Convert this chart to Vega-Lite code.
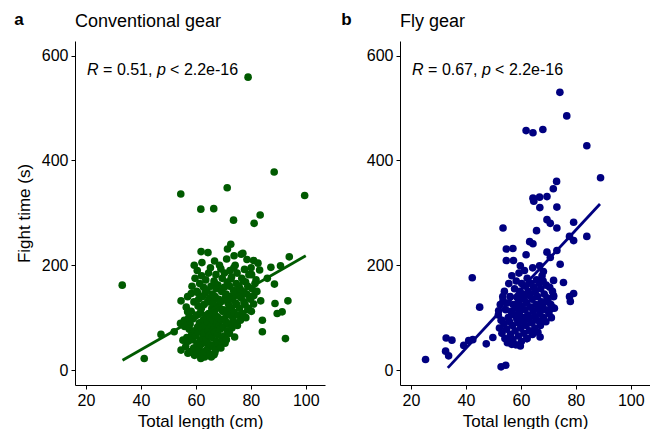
{
  "$schema": "https://vega.github.io/schema/vega-lite/v6.json",
  "padding": {"left": 14, "top": 11, "right": 0, "bottom": 0},
  "config": {
    "view": {"stroke": null},
    "font": "Liberation Sans",
    "axis": {"grid": false, "domainColor": "#000", "domainWidth": 1, "tickColor": "#000", "tickSize": 4, "tickWidth": 1, "labelColor": "#000", "labelFontSize": 16, "titleFontSize": 17, "titleFontWeight": "normal", "titleColor": "#000", "labelPadding": 3, "titlePadding": 5, "labelFont": "Liberation Sans", "titleFont": "Liberation Sans"},
    "title": {"font": "Liberation Sans", "color": "#000"}
  },
  "datasets": {
    "conv": [
      {"length":33.2,"time":162},{"length":41.2,"time":22},{"length":79,"time":559},{"length":88.5,"time":378},{"length":71.4,"time":348},{"length":54.5,"time":336},{"length":99.6,"time":333},{"length":61.8,"time":307},{"length":66.5,"time":308},{"length":83.4,"time":296},{"length":73.7,"time":286},{"length":81.2,"time":280},
      {"length":72.7,"time":240},{"length":71.5,"time":231},{"length":61.9,"time":226},{"length":64.4,"time":224},{"length":73.9,"time":218},{"length":76.5,"time":221},{"length":66.8,"time":208},{"length":78.6,"time":211},{"length":81,"time":209},{"length":94,"time":216},{"length":59.4,"time":200},{"length":69.1,"time":193},{"length":73.8,"time":195},{"length":83.2,"time":191},{"length":87.3,"time":196},{"length":90.8,"time":199},{"length":62.1,"time":180},{"length":72.8,"time":174},{"length":80.3,"time":182},{"length":86,"time":175},{"length":88.6,"time":164},{"length":67,"time":165},{"length":58.3,"time":146},{"length":54.6,"time":132},{"length":88.8,"time":127},{"length":93.5,"time":132},{"length":83.6,"time":132},{"length":81,"time":126},{"length":89.6,"time":108},{"length":91.4,"time":111},{"length":84.2,"time":95},{"length":84.2,"time":73},{"length":92.6,"time":60},{"length":74.1,"time":63},{"length":54.4,"time":89},{"length":52.1,"time":73},{"length":47.3,"time":68},{"length":57,"time":111},{"length":60.6,"time":148},{"length":54.6,"time":38},{"length":61.8,"time":22},{"length":66.6,"time":29},{"length":70.6,"time":51},{"length":57.1,"time":32},{"length":59.5,"time":28},{"length":63.2,"time":25},{"length":55.3,"time":57},{"length":55.9,"time":83},{"length":76.5,"time":102},{"length":78.9,"time":115},{"length":82.6,"time":204},{"length":77.1,"time":223},{"length":65.6,"time":25},{"length":66.9,"time":33},
      {"length":56.3,"time":45},{"length":56.7,"time":62},{"length":55.8,"time":95},{"length":56.5,"time":120},
      {"length":57.2,"time":55},{"length":57.6,"time":78},{"length":57.0,"time":140},{"length":57.4,"time":100},
      {"length":58.1,"time":35},{"length":58.5,"time":68},{"length":57.9,"time":88},{"length":58.3,"time":112},{"length":58.6,"time":160},
      {"length":59.2,"time":42},{"length":58.8,"time":58},{"length":59.5,"time":75},{"length":59.0,"time":98},{"length":59.3,"time":130},{"length":59.7,"time":175},
      {"length":60.1,"time":30},{"length":60.4,"time":50},{"length":59.9,"time":65},{"length":60.6,"time":82},{"length":60.2,"time":105},{"length":60.8,"time":122},{"length":60.3,"time":150},{"length":60.5,"time":190},
      {"length":61.2,"time":38},{"length":61.5,"time":55},{"length":60.9,"time":72},{"length":61.3,"time":90},{"length":61.7,"time":110},{"length":61.0,"time":135},{"length":61.4,"time":165},
      {"length":62.3,"time":28},{"length":61.8,"time":48},{"length":62.5,"time":62},{"length":62.1,"time":80},{"length":62.7,"time":96},{"length":62.0,"time":118},{"length":62.4,"time":140},{"length":62.8,"time":158},{"length":62.2,"time":205},
      {"length":63.1,"time":35},{"length":63.5,"time":52},{"length":62.9,"time":70},{"length":63.3,"time":85},{"length":63.7,"time":102},{"length":63.0,"time":125},{"length":63.4,"time":148},{"length":63.6,"time":172},
      {"length":64.2,"time":40},{"length":63.9,"time":58},{"length":64.5,"time":75},{"length":64.1,"time":92},{"length":64.7,"time":108},{"length":64.3,"time":130},{"length":64.0,"time":152},{"length":64.6,"time":185},
      {"length":65.1,"time":30},{"length":65.4,"time":48},{"length":64.9,"time":66},{"length":65.6,"time":84},{"length":65.2,"time":100},{"length":65.8,"time":118},{"length":65.0,"time":138},{"length":65.5,"time":160},{"length":65.3,"time":195},
      {"length":66.2,"time":45},{"length":65.9,"time":62},{"length":66.5,"time":78},{"length":66.1,"time":95},{"length":66.7,"time":112},{"length":66.3,"time":128},{"length":66.0,"time":145},{"length":66.6,"time":170},
      {"length":67.1,"time":38},{"length":67.4,"time":55},{"length":66.9,"time":72},{"length":67.6,"time":88},{"length":67.2,"time":104},{"length":67.8,"time":122},{"length":67.0,"time":140},{"length":67.5,"time":155},{"length":67.3,"time":182},
      {"length":68.2,"time":50},{"length":67.9,"time":68},{"length":68.5,"time":85},{"length":68.1,"time":100},{"length":68.7,"time":118},{"length":68.3,"time":135},{"length":68.0,"time":162},{"length":68.6,"time":200},
      {"length":69.1,"time":42},{"length":69.5,"time":60},{"length":68.9,"time":78},{"length":69.3,"time":96},{"length":69.7,"time":112},{"length":69.0,"time":130},{"length":69.4,"time":150},{"length":69.6,"time":175},
      {"length":70.2,"time":65},{"length":69.9,"time":82},{"length":70.5,"time":98},{"length":70.1,"time":115},{"length":70.7,"time":138},{"length":70.3,"time":158},{"length":70.4,"time":185},
      {"length":71.1,"time":58},{"length":71.5,"time":75},{"length":70.9,"time":92},{"length":71.3,"time":110},{"length":71.7,"time":128},{"length":71.0,"time":145},{"length":71.4,"time":168},{"length":71.2,"time":212},
      {"length":72.2,"time":70},{"length":71.9,"time":88},{"length":72.5,"time":105},{"length":72.1,"time":122},{"length":72.7,"time":140},{"length":72.3,"time":160},{"length":72.4,"time":190},
      {"length":73.1,"time":80},{"length":73.5,"time":98},{"length":72.9,"time":118},{"length":73.3,"time":135},{"length":73.7,"time":152},{"length":73.0,"time":178},
      {"length":74.2,"time":90},{"length":73.9,"time":110},{"length":74.5,"time":128},{"length":74.1,"time":148},{"length":74.7,"time":165},{"length":74.3,"time":200},
      {"length":75.1,"time":85},{"length":75.5,"time":105},{"length":74.9,"time":125},{"length":75.3,"time":142},{"length":75.7,"time":160},{"length":75.0,"time":185},
      {"length":76.2,"time":95},{"length":75.9,"time":118},{"length":76.5,"time":138},{"length":76.1,"time":155},{"length":76.7,"time":175},
      {"length":77.1,"time":108},{"length":77.5,"time":130},{"length":76.9,"time":150},{"length":77.3,"time":170},{"length":77.7,"time":192},
      {"length":78.2,"time":100},{"length":77.9,"time":125},{"length":78.5,"time":145},{"length":78.1,"time":168},
      {"length":79.1,"time":118},{"length":79.5,"time":140},{"length":78.9,"time":160},{"length":79.3,"time":182},
      {"length":80.2,"time":112},{"length":79.9,"time":135},{"length":80.5,"time":155},{"length":80.1,"time":195},
      {"length":81.1,"time":142},{"length":81.5,"time":165},
      {"length":82.2,"time":150},{"length":81.9,"time":172}
    ],
    "fly": [
      {"length":74.2,"time":530},{"length":76.7,"time":485},{"length":61.9,"time":457},{"length":64.4,"time":453},{"length":68,"time":459},{"length":84,"time":428},{"length":89,"time":367},{"length":73,"time":360},{"length":71.8,"time":346},{"length":64.4,"time":328},{"length":66.8,"time":330},{"length":69.5,"time":331},{"length":64.7,"time":322},{"length":66.9,"time":310},{"length":73.1,"time":311},{"length":53.5,"time":271},{"length":69.5,"time":287},{"length":70.7,"time":280},{"length":73.1,"time":271},{"length":79.2,"time":282},{"length":65.7,"time":266},{"length":63.2,"time":245},{"length":64.4,"time":241},{"length":84,"time":255},{"length":79.2,"time":247},{"length":77.7,"time":255},{"length":54.7,"time":231},{"length":57.1,"time":232},{"length":61.9,"time":220},{"length":69.5,"time":225},{"length":70.7,"time":215},{"length":73.1,"time":228},{"length":54.7,"time":209},{"length":57.3,"time":209},{"length":59.8,"time":199},{"length":74.3,"time":202},{"length":66.8,"time":199},{"length":68.2,"time":188},{"length":42.3,"time":176},{"length":75.5,"time":167},{"length":71.9,"time":171},{"length":79.2,"time":146},{"length":77.7,"time":140},{"length":78,"time":131},{"length":71.9,"time":142},{"length":70.7,"time":116},{"length":71.6,"time":119},{"length":45,"time":120},{"length":53.5,"time":132},{"length":51.9,"time":113},{"length":53.1,"time":95},{"length":67,"time":93},{"length":67,"time":63},{"length":62.2,"time":60},{"length":59.8,"time":46},{"length":56.7,"time":49},{"length":55.5,"time":59},{"length":49.8,"time":62},{"length":47.4,"time":50},{"length":42.5,"time":58},{"length":41,"time":56},{"length":39.2,"time":47},{"length":32.8,"time":61},{"length":34.9,"time":57},{"length":32.6,"time":36},{"length":33.7,"time":27},{"length":25.3,"time":20},{"length":52.8,"time":6},{"length":54.5,"time":9},
      {"length":52.2,"time":80},{"length":51.8,"time":105},{"length":52.5,"time":125},
      {"length":53.1,"time":70},{"length":52.8,"time":95},{"length":53.4,"time":140},
      {"length":54.2,"time":60},{"length":53.8,"time":88},{"length":54.5,"time":115},{"length":54.0,"time":150},
      {"length":55.1,"time":52},{"length":54.8,"time":78},{"length":55.4,"time":100},{"length":55.0,"time":128},{"length":55.6,"time":165},
      {"length":56.2,"time":68},{"length":55.9,"time":92},{"length":56.5,"time":112},{"length":56.1,"time":140},{"length":56.7,"time":180},
      {"length":57.1,"time":58},{"length":56.9,"time":85},{"length":57.5,"time":105},{"length":57.2,"time":125},{"length":57.7,"time":155},
      {"length":58.2,"time":48},{"length":57.9,"time":75},{"length":58.5,"time":98},{"length":58.1,"time":118},{"length":58.7,"time":138},{"length":58.3,"time":170},
      {"length":59.1,"time":65},{"length":58.9,"time":90},{"length":59.5,"time":110},{"length":59.2,"time":130},{"length":59.7,"time":150},{"length":59.3,"time":185},
      {"length":60.2,"time":55},{"length":59.9,"time":80},{"length":60.5,"time":100},{"length":60.1,"time":122},{"length":60.7,"time":145},{"length":60.3,"time":165},
      {"length":61.1,"time":70},{"length":60.9,"time":92},{"length":61.5,"time":115},{"length":61.2,"time":135},{"length":61.7,"time":160},{"length":61.3,"time":190},
      {"length":62.2,"time":60},{"length":61.9,"time":85},{"length":62.5,"time":105},{"length":62.1,"time":128},{"length":62.7,"time":150},{"length":62.3,"time":175},
      {"length":63.1,"time":75},{"length":62.9,"time":98},{"length":63.5,"time":120},{"length":63.2,"time":142},{"length":63.7,"time":165},
      {"length":64.2,"time":68},{"length":63.9,"time":90},{"length":64.5,"time":112},{"length":64.1,"time":135},{"length":64.7,"time":158},{"length":64.3,"time":195},
      {"length":65.1,"time":80},{"length":64.9,"time":102},{"length":65.5,"time":125},{"length":65.2,"time":148},{"length":65.7,"time":172},
      {"length":66.2,"time":72},{"length":65.9,"time":95},{"length":66.5,"time":118},{"length":66.1,"time":140},{"length":66.7,"time":165},
      {"length":67.1,"time":85},{"length":66.9,"time":108},{"length":67.5,"time":130},{"length":67.2,"time":155},{"length":67.7,"time":180},
      {"length":68.2,"time":100},{"length":67.9,"time":122},{"length":68.5,"time":145},{"length":68.1,"time":170},
      {"length":69.1,"time":92},{"length":68.9,"time":115},{"length":69.5,"time":138},{"length":69.2,"time":162},
      {"length":70.2,"time":108},{"length":69.9,"time":130},{"length":70.5,"time":158},
      {"length":71.1,"time":100},{"length":70.9,"time":125},{"length":71.5,"time":150},
      {"length":72.2,"time":118},{"length":71.9,"time":140}
    ],
    "conv_fit": [{"length":33.3,"time":18.5},{"length":100,"time":218}],
    "fly_fit": [{"length":33.4,"time":4},{"length":88.8,"time":317}]
  },
  "spacing": 16,
  "hconcat": [
    {
      "title": {"text": "a", "anchor": "start", "frame": "bounds", "fontWeight": "bold", "fontSize": 17, "baseline": "alphabetic", "offset": 0, "dy": 29, "dx": -1},
      "hconcat": [
        {
          "width": 250, "height": 344,
          "title": {"text": "Conventional gear", "anchor": "start", "frame": "group", "fontSize": 18, "fontWeight": "normal", "baseline": "alphabetic", "offset": -4},
          "layer": [
            {"data": {"name": "conv"}, "mark": {"type": "circle", "size": 58, "opacity": 1, "color": "#005a00"},
             "encoding": {
               "x": {"field": "length", "type": "quantitative", "scale": {"domain": [16, 107], "nice": false, "zero": false}, "axis": {"title": "Total length (cm)", "values": [20, 40, 60, 80, 100]}},
               "y": {"field": "time", "type": "quantitative", "scale": {"domain": [-28.6, 628], "nice": false, "zero": false}, "axis": {"title": "Fight time (s)", "values": [0, 200, 400, 600], "titlePadding": 8}}
             }},
            {"data": {"name": "conv_fit"}, "mark": {"type": "line", "color": "#005a00", "strokeWidth": 2.8},
             "encoding": {"x": {"field": "length", "type": "quantitative"}, "y": {"field": "time", "type": "quantitative"}}},
            {"data": {"values": [{}]}, "mark": {"type": "text", "text": "R", "fontStyle": "italic", "align": "left", "baseline": "middle", "fontSize": 16, "dx": 0},
             "encoding": {"x": {"datum": 20.4, "type": "quantitative"}, "y": {"datum": 572, "type": "quantitative"}}},
            {"data": {"values": [{}]}, "mark": {"type": "text", "text": "= 0.51,", "align": "left", "baseline": "middle", "fontSize": 16, "dx": 16},
             "encoding": {"x": {"datum": 20.4, "type": "quantitative"}, "y": {"datum": 572, "type": "quantitative"}}},
            {"data": {"values": [{}]}, "mark": {"type": "text", "text": "p", "fontStyle": "italic", "align": "left", "baseline": "middle", "fontSize": 16, "dx": 70},
             "encoding": {"x": {"datum": 20.4, "type": "quantitative"}, "y": {"datum": 572, "type": "quantitative"}}},
            {"data": {"values": [{}]}, "mark": {"type": "text", "text": "< 2.2e-16", "align": "left", "baseline": "middle", "fontSize": 16, "dx": 83},
             "encoding": {"x": {"datum": 20.4, "type": "quantitative"}, "y": {"datum": 572, "type": "quantitative"}}}
          ]
        }
      ]
    },
    {
      "title": {"text": "b", "anchor": "start", "frame": "bounds", "fontWeight": "bold", "fontSize": 17, "baseline": "alphabetic", "offset": 0, "dy": 29, "dx": -25},
      "hconcat": [
        {
          "width": 250, "height": 344,
          "title": {"text": "Fly gear", "anchor": "start", "frame": "group", "fontSize": 18, "fontWeight": "normal", "baseline": "alphabetic", "offset": -4},
          "layer": [
            {"data": {"name": "fly"}, "mark": {"type": "circle", "size": 58, "opacity": 1, "color": "#000080"},
             "encoding": {
               "x": {"field": "length", "type": "quantitative", "scale": {"domain": [16, 107], "nice": false, "zero": false}, "axis": {"title": "Total length (cm)", "values": [20, 40, 60, 80, 100]}},
               "y": {"field": "time", "type": "quantitative", "scale": {"domain": [-28.6, 628], "nice": false, "zero": false}, "axis": {"title": null, "values": [0, 200, 400, 600]}}
             }},
            {"data": {"name": "fly_fit"}, "mark": {"type": "line", "color": "#000080", "strokeWidth": 2.8},
             "encoding": {"x": {"field": "length", "type": "quantitative"}, "y": {"field": "time", "type": "quantitative"}}},
            {"data": {"values": [{}]}, "mark": {"type": "text", "text": "R", "fontStyle": "italic", "align": "left", "baseline": "middle", "fontSize": 16, "dx": 0},
             "encoding": {"x": {"datum": 20.4, "type": "quantitative"}, "y": {"datum": 572, "type": "quantitative"}}},
            {"data": {"values": [{}]}, "mark": {"type": "text", "text": "= 0.67,", "align": "left", "baseline": "middle", "fontSize": 16, "dx": 16},
             "encoding": {"x": {"datum": 20.4, "type": "quantitative"}, "y": {"datum": 572, "type": "quantitative"}}},
            {"data": {"values": [{}]}, "mark": {"type": "text", "text": "p", "fontStyle": "italic", "align": "left", "baseline": "middle", "fontSize": 16, "dx": 70},
             "encoding": {"x": {"datum": 20.4, "type": "quantitative"}, "y": {"datum": 572, "type": "quantitative"}}},
            {"data": {"values": [{}]}, "mark": {"type": "text", "text": "< 2.2e-16", "align": "left", "baseline": "middle", "fontSize": 16, "dx": 83},
             "encoding": {"x": {"datum": 20.4, "type": "quantitative"}, "y": {"datum": 572, "type": "quantitative"}}}
          ]
        }
      ]
    }
  ]
}
